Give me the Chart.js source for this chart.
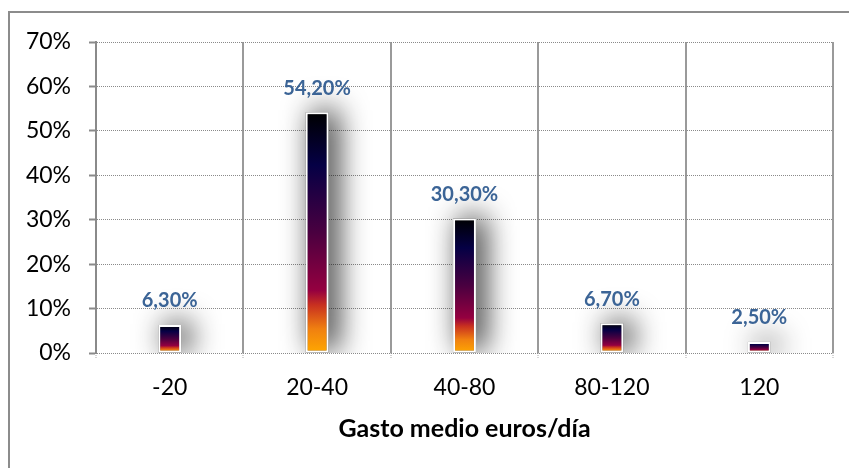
<!DOCTYPE html>
<html>
<head>
<meta charset="utf-8">
<script src="https://cdn.jsdelivr.net/npm/chart.js@4/dist/chart.umd.min.js"></script>
<style>
  html, body { margin: 0; padding: 0; background: #fff; }
  #wrap { width: 849px; height: 468px; }
</style>
</head>
<body>
<div id="wrap"><canvas id="gastoChart" width="849" height="468"></canvas></div>
<script>
// data
const categories = ['-20', '20-40', '40-80', '80-120', '120'];
const shares = [6.3, 54.2, 30.3, 6.7, 2.5];
const yTicks = [0, 10, 20, 30, 40, 50, 60, 70];
const xTitle = 'Gasto medio euros/día';

const FONT = 'Lato, "Open Sans", sans-serif';

function barGradient(context) {
  const chart = context.chart;
  const y = chart.scales.y;
  if (!y || !chart.chartArea) return '#4a0040';
  const v = context.raw;
  const top = y.getPixelForValue(v);
  const bottom = y.getPixelForValue(0);
  const g = chart.ctx.createLinearGradient(0, bottom, 0, top);
  g.addColorStop(0, '#ffa800');
  g.addColorStop(0.1, '#f08010');
  g.addColorStop(0.2, '#c83020');
  g.addColorStop(0.26, '#950040');
  g.addColorStop(0.5, '#4a0040');
  g.addColorStop(0.78, '#050045');
  g.addColorStop(1, '#000000');
  return g;
}

// frame line round the chart (only top and left show in the picture)
const frame = {
  id: 'frame',
  beforeDraw(chart) {
    const ctx = chart.ctx;
    ctx.save();
    ctx.strokeStyle = '#8c8c8c';
    ctx.lineWidth = 2;
    ctx.strokeRect(9, 12, 900, 520);
    ctx.restore();
  }
};

// the bar element clips itself, so cast the soft shadow from a copy of each bar first
const barShadow = {
  id: 'barShadow',
  beforeDatasetsDraw(chart) {
    const ctx = chart.ctx;
    const meta = chart.getDatasetMeta(0);
    ctx.save();
    ctx.beginPath();
    ctx.rect(chart.chartArea.left, chart.chartArea.top - 30, chart.chartArea.width, chart.chartArea.height + 30);
    ctx.clip();
    ctx.shadowColor = 'rgba(0,0,0,0.9)';
    ctx.shadowBlur = 30;
    ctx.shadowOffsetX = 8;
    ctx.shadowOffsetY = -2;
    ctx.fillStyle = '#777';
    meta.data.forEach(bar => {
      const p = bar.getProps(['x', 'y', 'base', 'width'], true);
      ctx.fillRect(p.x - p.width / 2, p.y, p.width, p.base - p.y);
    });
    ctx.restore();
  }
};

const valueLabels = {
  id: 'valueLabels',
  afterDatasetsDraw(chart) {
    const ctx = chart.ctx;
    const meta = chart.getDatasetMeta(0);
    ctx.save();
    ctx.font = 'bold 20px ' + FONT;
    ctx.fillStyle = '#3b6496';
    ctx.textAlign = 'center';
    ctx.textBaseline = 'middle';
    meta.data.forEach((bar, i) => {
      const txt = shares[i].toFixed(2).replace('.', ',') + '%';
      ctx.fillText(txt, bar.x, bar.y - 24);
    });
    ctx.restore();
  }
};

new Chart(document.getElementById('gastoChart'), {
  type: 'bar',
  data: {
    labels: categories,
    datasets: [{
      data: shares,
      backgroundColor: barGradient,
      borderColor: '#ffffff',
      borderWidth: 2,
      borderSkipped: false,
      barPercentage: 0.155,
      categoryPercentage: 1
    }]
  },
  options: {
    responsive: false,
    animation: false,
    layout: { padding: { left: 0, top: 42, right: 16, bottom: 0 } },
    plugins: {
      legend: { display: false },
      tooltip: { enabled: false }
    },
    scales: {
      x: {
        afterFit: s => { s.height = 115; },
        grid: {
          offset: true,
          color: '#9a9a9a',
          lineWidth: 2,
          tickLength: 5,
          tickColor: '#aaaaaa',
          tickWidth: 1,
          tickBorderDash: [1, 1]
        },
        border: { display: false },
        ticks: {
          color: '#000',
          font: { family: FONT, size: 23 },
          padding: 16
        },
        title: {
          display: true,
          text: xTitle,
          color: '#000',
          font: { family: FONT, size: 25, weight: 'bold' },
          padding: { top: 0, bottom: 24 }
        }
      },
      y: {
        min: 0,
        max: 70,
        afterFit: s => { s.width = 96; },
        afterBuildTicks: s => { s.ticks = yTicks.map(v => ({ value: v })); },
        grid: {
          color: '#8a8a8a',
          lineWidth: 1,
          tickLength: 7,
          tickColor: '#8a8a8a',
          tickWidth: 2,
          tickBorderDash: []
        },
        border: { display: true, color: '#8a8a8a', width: 2, dash: [1, 1] },
        ticks: {
          color: '#000',
          font: { family: FONT, size: 23 },
          padding: 18,
          callback: v => v + '%'
        }
      }
    }
  },
  plugins: [frame, barShadow, valueLabels]
});
</script>
</body>
</html>
